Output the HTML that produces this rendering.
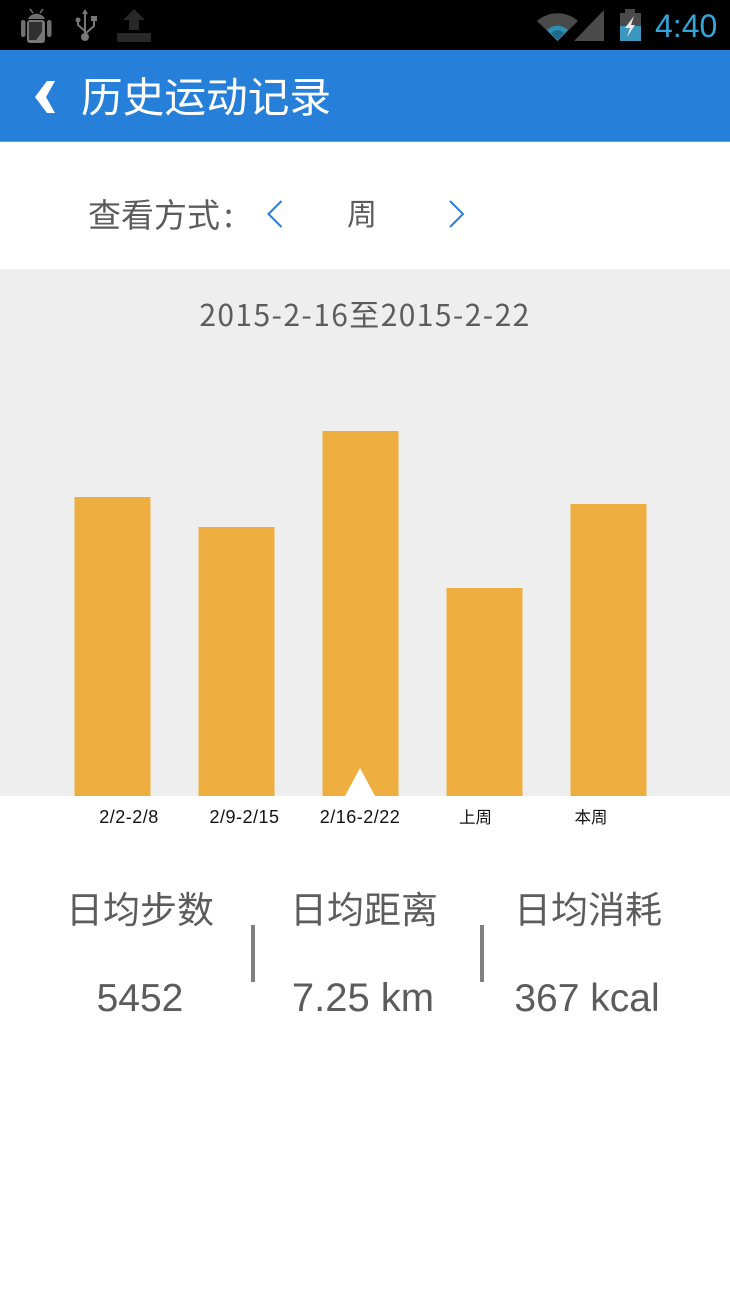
<!DOCTYPE html>
<html lang="zh">
<head>
<meta charset="utf-8">
<title>历史运动记录</title>
<style>
html,body{margin:0;padding:0;background:#fff;}
body{width:730px;height:1296px;overflow:hidden;position:relative;}
svg{position:absolute;left:0;top:0;}
text{font-family:"Noto Sans CJK SC","WenQuanYi Zen Hei","Liberation Sans",sans-serif;}
.stat{font-family:"Liberation Sans","Noto Sans CJK SC",sans-serif;}
.zen{font-family:"WenQuanYi Zen Hei","Noto Sans CJK SC",sans-serif;}
</style>
</head>
<body>
<svg id="page" width="730" height="1296" viewBox="0 0 730 1296" xmlns="http://www.w3.org/2000/svg">
  <rect width="730" height="1296" fill="#fff"/>
  <g>
    <rect width="730" height="50" fill="#000"/>
    <g fill="#6f6f6f">
      <path d="M28 19a9 8 0 0 1 17 0z"/>
      <path d="M30 9l3 4M43 9l-3 4" stroke="#6f6f6f" stroke-width="1.500" fill="none"/>
      <rect x="21" y="20" width="4.500" height="17" rx="2.200"/>
      <rect x="47" y="20" width="4.500" height="17" rx="2.200"/>
      <rect x="27" y="20" width="18" height="23" rx="3" fill="#777"/>
      <rect x="29" y="22" width="13" height="18" fill="#303030"/>
      <path d="M34 43l10-14v11l-3 3z" fill="#777"/>
    </g>
    <g fill="#777" stroke="#777">
      <path d="M85 11v26M85 31l-7-6v-5M85 34l9-8v-7" fill="none" stroke-width="2"/>
      <path d="M85 9l3 5h-6z" stroke="none"/>
      <circle cx="85" cy="37" r="4" stroke="none"/>
      <circle cx="78" cy="20" r="2.500" stroke="none"/>
      <rect x="91" y="16" width="6" height="5" stroke="none"/>
    </g>
    <g fill="#282828">
      <path d="M134 9l11 11h-6v10h-10V20h-6z"/>
      <rect x="117" y="33" width="34" height="9" rx="1"/>
    </g>
    <g>
      <path d="M537 21a31 31 0 0 1 41 0l-20.500 20z" fill="#4a4a4a"/>
      <path d="M547 30a15 15 0 0 1 21 0l-10.500 11z" fill="#2f8fb5"/>
      <path d="M551 33a9 9 0 0 1 13 0l-6.500 7z" fill="#1e6a88"/>
    </g>
    <path d="M574 41L604 10v31z" fill="#4a4a4a"/>
    <g>
      <rect x="625" y="9" width="10" height="4" fill="#4a4a4a"/>
      <rect x="620" y="13" width="21" height="28" fill="#4a4a4a"/>
      <rect x="620" y="26" width="21" height="15" fill="#3b97bd"/>
      <path d="M634 16l-9 12h5l-3 9 8-12h-4z" fill="#e8e8e8"/>
    </g>
    <text x="655" y="37" font-size="32" fill="#33a5d8" style="font-family:'Liberation Sans',sans-serif">4:40</text>
  </g>
  <g>
    <rect y="50" width="730" height="91" fill="#2680d9"/>
    <rect y="141" width="730" height="1" fill="#5aa0e4"/>
    <path d="M47 81h8l-9 16 9 16h-8l-12-16z" fill="#fff"/>
    <text x="81" y="112" font-size="41.700" fill="#fff">历史运动记录</text>
  </g>
  <g>
    <text class="zen" x="88" y="227" font-size="33" fill="#5c5c5c">查看方式</text>
    <text class="zen" x="224" y="227" font-size="33" fill="#5c5c5c">:</text>
    <path d="M281.500 201l-13 13 13 13" fill="none" stroke="#2680d9" stroke-width="2"/>
    <text class="zen" x="347" y="225" font-size="30" fill="#5c5c5c">周</text>
    <path d="M450 201l13 13-13 13" fill="none" stroke="#2680d9" stroke-width="2"/>
  </g>
  <rect y="269" width="730" height="527" fill="#eeeeee"/>
  <text class="zen" x="365" y="326" font-size="30" letter-spacing="1.400" fill="#5c5c5c" text-anchor="middle">2015-2-16至2015-2-22</text>
  <g id="bars"></g>
  <path d="M360 768l15 28h-30z" fill="#fff"/>
  <g id="labels"></g>
  <g>
    <text x="140" y="923" font-size="37" fill="#5c5c5c" text-anchor="middle">日均步数</text>
    <text class="stat" x="140" y="1011" font-size="39" fill="#5c5c5c" text-anchor="middle">5452</text>
  </g>
  <rect x="251" y="925" width="4" height="57" fill="#808080"/>
  <g>
    <text x="364" y="923" font-size="37" fill="#5c5c5c" text-anchor="middle">日均距离</text>
    <text class="stat" x="363" y="1011" font-size="40" fill="#5c5c5c" text-anchor="middle">7.25 km</text>
  </g>
  <rect x="480" y="925" width="4" height="57" fill="#808080"/>
  <g>
    <text x="588" y="923" font-size="37" fill="#5c5c5c" text-anchor="middle">日均消耗</text>
    <text class="stat" x="587" y="1011" font-size="39" fill="#5c5c5c" text-anchor="middle">367 kcal</text>
  </g>
</svg>
<script>
const categories = ['2/2-2/8', '2/9-2/15', '2/16-2/22', '上周', '本周'];
const stepValues = [5980, 5380, 7300, 4160, 5840];

const NS = 'http://www.w3.org/2000/svg';
const baseY = 796;
const unitsPerPixel = 20;
const barWidth = 76;

function yScale(value) {
  return baseY - value / unitsPerPixel;
}
function barLeft(index) {
  return 74.5 + index * 124;
}
function labelCenter(index) {
  return 129 + index * 115.500;
}

const barsGroup = document.getElementById('bars');
const labelsGroup = document.getElementById('labels');

stepValues.forEach(function (value, index) {
  const bar = document.createElementNS(NS, 'rect');
  
  
  bar.setAttribute('x', barLeft(index));
  bar.setAttribute('y', yScale(value));
  bar.setAttribute('width', barWidth);
  bar.setAttribute('height', baseY - yScale(value));
  bar.setAttribute('fill', '#efaf40');
  barsGroup.appendChild(bar);
});

categories.forEach(function (category, index) {
  const isLatin = /^[0-9\/-]+$/.test(category);
  const label = document.createElementNS(NS, 'text');
  
  
  label.setAttribute('x', labelCenter(index));
  label.setAttribute('y', 823);
  label.setAttribute('font-size', isLatin ? '18' : '16.500');
  label.setAttribute('letter-spacing', isLatin ? '0.500' : '0');
  label.setAttribute('fill', '#111');
  label.setAttribute('text-anchor', 'middle');
  label.setAttribute('class', 'stat');
  label.textContent = category;
  labelsGroup.appendChild(label);
});
</script>
</body>
</html>
